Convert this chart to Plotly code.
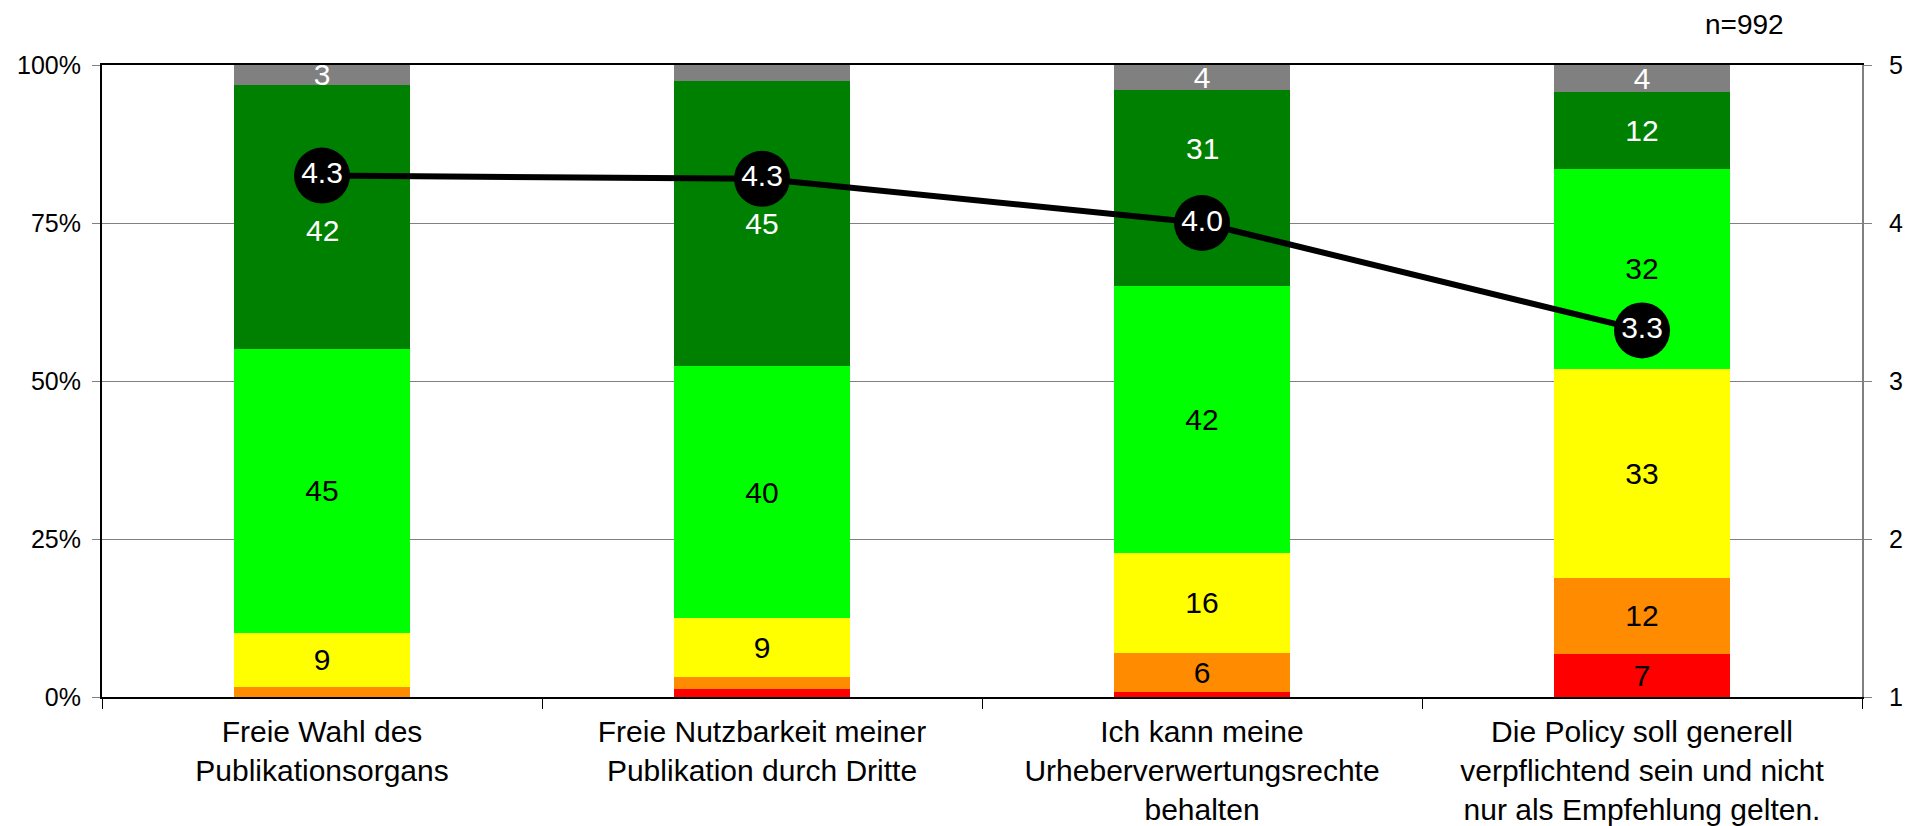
import plotly.graph_objects as go

# Kategorien (x-Achse)
kategorien = [
    "Freie Wahl des<br>Publikationsorgans",
    "Freie Nutzbarkeit meiner<br>Publikation durch Dritte",
    "Ich kann meine<br>Urheberverwertungsrechte<br>behalten",
    "Die Policy soll generell<br>verpflichtend sein und nicht<br>nur als Empfehlung gelten.",
]

# Anteile in % (von unten nach oben gestapelt)
rot = [0.0, 1.2, 0.8, 6.8]
orange = [1.6, 2.0, 6.2, 12.1]
gelb = [8.6, 9.3, 15.8, 33.0]
hellgruen = [44.8, 39.8, 42.3, 31.7]
dunkelgruen = [41.9, 45.2, 30.9, 12.2]
grau = [3.1, 2.5, 4.0, 4.2]

# Mittelwerte (rechte Achse, 1-5)
mittelwert = [4.30, 4.28, 4.00, 3.32]

# Achsenbeschriftungen
y_ticks = [0, 25, 50, 75, 100]
y_ticktext = ["0%", "25%", "50%", "75%", "100%"]
y2_ticks = [1, 2, 3, 4, 5]

FONT = "Liberation Sans, Arial, sans-serif"

segmente = [
    ("rot", rot, "#FF0000", "black"),
    ("orange", orange, "#FF8C00", "black"),
    ("gelb", gelb, "#FFFF00", "black"),
    ("hellgruen", hellgruen, "#00FF00", "black"),
    ("dunkelgruen", dunkelgruen, "#008000", "white"),
    ("grau", grau, "#808080", "white"),
]

# Im Original verschobene Labels (Anteil der Segmenthöhe von oben)
verschoben = {("dunkelgruen", 0): 0.55, ("dunkelgruen", 2): 0.3}

fig = go.Figure()

basis = [0.0] * len(kategorien)
for name, werte, farbe, textfarbe in segmente:
    texte = []
    for i, v in enumerate(werte):
        label = str(round(v)) if v >= 3 else ""
        if (name, i) in verschoben:
            oben = basis[i] + v
            fig.add_annotation(
                x=kategorien[i],
                y=oben - verschoben[(name, i)] * v,
                text=label,
                showarrow=False,
                font=dict(family=FONT, size=30, color=textfarbe),
            )
            label = ""
        texte.append(label)
    fig.add_trace(
        go.Bar(
            x=kategorien,
            y=werte,
            name=name,
            marker=dict(color=farbe, line=dict(width=0)),
            text=texte,
            textposition="inside",
            insidetextanchor="middle",
            textangle=0,
            textfont=dict(family=FONT, size=30, color=textfarbe),
            hoverinfo="skip",
        )
    )
    basis = [b + v for b, v in zip(basis, werte)]

# Linie mit Mittelwerten
fig.add_trace(
    go.Scatter(
        x=kategorien,
        y=mittelwert,
        yaxis="y2",
        mode="lines+markers+text",
        line=dict(color="black", width=6),
        marker=dict(color="black", size=56),
        text=[f"{v:.1f}" for v in mittelwert],
        textposition="middle center",
        textfont=dict(family=FONT, size=30, color="white"),
        cliponaxis=False,
    )
)

# body-Rand der HTML-Seite (8px) wird in den Margins ausgeglichen
fig.update_layout(
    width=1918,
    height=826,
    barmode="stack",
    bargap=0.6,
    showlegend=False,
    plot_bgcolor="white",
    paper_bgcolor="white",
    font=dict(family=FONT, size=25, color="black"),
    uniformtext=dict(minsize=30, mode="show"),
    margin=dict(l=94, r=64, t=57, b=137),
    xaxis=dict(
        showline=True,
        linecolor="black",
        linewidth=2,
        mirror=True,
        ticks="outside",
        tickson="boundaries",
        ticklen=10,
        tickcolor="black",
        ticklabelstandoff=7,
        tickfont=dict(size=30),
        automargin=False,
    ),
    yaxis=dict(
        range=[0, 100],
        tickvals=y_ticks,
        ticktext=y_ticktext,
        showline=True,
        linecolor="black",
        linewidth=2,
        ticks="outside",
        ticklen=8,
        tickcolor="#808080",
        ticklabelstandoff=6,
        showgrid=True,
        gridcolor="#808080",
        gridwidth=1,
        zeroline=False,
        tickfont=dict(size=25),
        automargin=False,
    ),
    yaxis2=dict(
        overlaying="y",
        side="right",
        range=[1, 5],
        tickvals=y2_ticks,
        showline=True,
        linecolor="#808080",
        linewidth=2,
        ticks="outside",
        ticklen=8,
        tickcolor="#808080",
        ticklabelstandoff=12,
        showgrid=False,
        zeroline=False,
        tickfont=dict(size=25),
        automargin=False,
    ),
)

fig.add_annotation(
    text="n=992",
    xref="paper",
    yref="paper",
    x=0.957,
    y=1.064,
    xanchor="right",
    yanchor="middle",
    showarrow=False,
    font=dict(size=28),
)

fig.write_html("out.html")
